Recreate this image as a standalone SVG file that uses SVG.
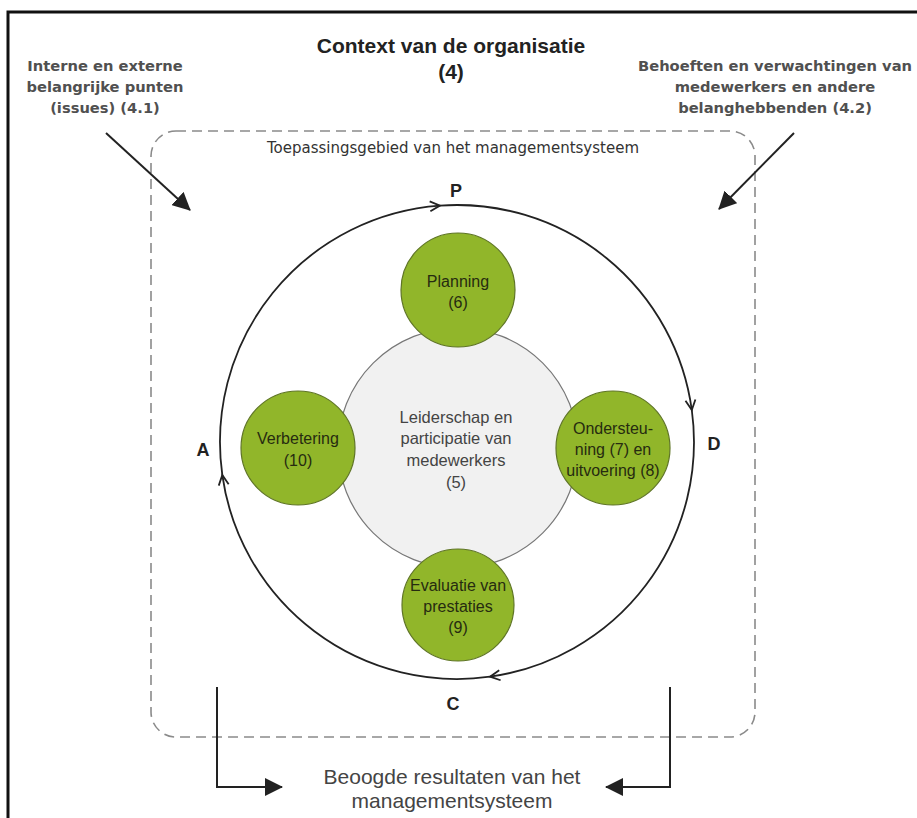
<svg xmlns="http://www.w3.org/2000/svg" width="917" height="818" viewBox="0 0 917 818">
  <style>
    .frame { fill: none; stroke: #111; stroke-width: 3; }
    .scope { fill: none; stroke: #8a8a8a; stroke-width: 1.6; stroke-dasharray: 10 6; }
    .conn { fill: none; stroke: #222; stroke-width: 2; }
    .cycle { fill: none; stroke: #222; stroke-width: 1.8; }
    .core { fill: #f1f1f1; stroke: #777; stroke-width: 1.2; }
    .green { fill: #91b62a; stroke: #5f7526; stroke-width: 1.2; }
    .gt { font-family: "Liberation Sans", Arial, sans-serif; font-size: 16px; fill: #262b10; text-anchor: middle; }
    .ct { font-family: "Liberation Sans", Arial, sans-serif; font-size: 16.5px; fill: #444; text-anchor: middle; }
    .title { font-family: "Liberation Sans", Arial, sans-serif; font-size: 21px; font-weight: bold; fill: #222; text-anchor: middle; }
    .side { font-family: "DejaVu Sans", Verdana, sans-serif; font-size: 14.7px; font-weight: bold; fill: #505050; text-anchor: middle; }
    .scopet { font-family: "DejaVu Sans", Verdana, sans-serif; font-size: 15px; fill: #333; text-anchor: middle; }
    .pdca { font-family: "Liberation Sans", Arial, sans-serif; font-size: 18px; font-weight: bold; fill: #222; text-anchor: middle; }
    .res { font-family: "Liberation Sans", Arial, sans-serif; font-size: 21px; fill: #444; text-anchor: middle; }
  </style>
  <defs>
    <marker id="filled" markerUnits="userSpaceOnUse" markerWidth="18" markerHeight="18" viewBox="0 0 18 18" refX="17" refY="9" orient="auto">
      <path d="M0,0 L18,9 L0,18 z" fill="#222"/>
    </marker>
    <marker id="chev" markerUnits="userSpaceOnUse" markerWidth="14" markerHeight="14" viewBox="0 0 14 14" refX="12" refY="7" orient="auto">
      <path d="M2,2 L12,7 L2,12" fill="none" stroke="#222" stroke-width="1.8"/>
    </marker>
  </defs>

  <rect x="0" y="0" width="917" height="818" fill="#fff"/>
  <path class="frame" d="M8,820 V12 H920"/>

  <g id="title">
    <text class="title" x="451" y="53">Context van de organisatie</text>
    <text class="title" x="451" y="79">(4)</text>
  </g>

  <g id="issues">
    <text class="side" x="105" y="71">Interne en externe</text>
    <text class="side" x="105" y="92">belangrijke punten</text>
    <text class="side" x="105" y="113">(issues) (4.1)</text>
  </g>

  <g id="stakeholders">
    <text class="side" x="775" y="71">Behoeften en verwachtingen van</text>
    <text class="side" x="775" y="92">medewerkers en andere</text>
    <text class="side" x="775" y="113">belanghebbenden (4.2)</text>
  </g>

  <g id="scope">
    <rect class="scope" x="151" y="131" width="604" height="606" rx="25" ry="25"/>
    <text class="scopet" x="453" y="153">Toepassingsgebied van het managementsysteem</text>
  </g>

  <g id="connectors">
    <path class="conn" d="M106,133 L190,210" marker-end="url(#filled)"/>
    <path class="conn" d="M794,133 L719,209" marker-end="url(#filled)"/>
    <path class="cycle" d="M222.3,475 A237,237 0 0 1 440,205.6" marker-end="url(#chev)"/>
    <path class="cycle" d="M440,205.6 A237,237 0 0 1 691.8,410" marker-end="url(#chev)"/>
    <path class="cycle" d="M691.8,410 A237,237 0 0 1 490,676.7" marker-end="url(#chev)"/>
    <path class="cycle" d="M490,676.7 A237,237 0 0 1 222.3,475" marker-end="url(#chev)"/>
    <path class="conn" d="M217,687 V787 H282" marker-end="url(#filled)"/>
    <path class="conn" d="M670,687 V787 H606" marker-end="url(#filled)"/>
  </g>

  <g id="pdca-labels">
    <text class="pdca" x="456" y="197">P</text>
    <text class="pdca" x="714" y="450">D</text>
    <text class="pdca" x="453" y="710">C</text>
    <text class="pdca" x="203" y="456">A</text>
  </g>

  <g id="leiderschap">
    <circle class="core" cx="458" cy="448" r="120"/>
    <text class="ct" x="456" y="423">Leiderschap en</text>
    <text class="ct" x="456" y="444">participatie van</text>
    <text class="ct" x="456" y="466">medewerkers</text>
    <text class="ct" x="456" y="488">(5)</text>
  </g>

  <g id="planning">
    <circle class="green" cx="458" cy="290" r="57"/>
    <text class="gt" x="458" y="287">Planning</text>
    <text class="gt" x="458" y="308">(6)</text>
  </g>

  <g id="verbetering">
    <circle class="green" cx="298" cy="448" r="57"/>
    <text class="gt" x="298" y="444">Verbetering</text>
    <text class="gt" x="298" y="466">(10)</text>
  </g>

  <g id="ondersteuning">
    <circle class="green" cx="613" cy="448" r="57"/>
    <text class="gt" x="613" y="434">Ondersteu-</text>
    <text class="gt" x="613" y="455">ning (7) en</text>
    <text class="gt" x="613" y="476">uitvoering (8)</text>
  </g>

  <g id="evaluatie">
    <circle class="green" cx="458" cy="605" r="56"/>
    <text class="gt" x="458" y="591">Evaluatie van</text>
    <text class="gt" x="458" y="612">prestaties</text>
    <text class="gt" x="458" y="633">(9)</text>
  </g>

  <g id="resultaten">
    <text class="res" x="452" y="784">Beoogde resultaten van het</text>
    <text class="res" x="452" y="808">managementsysteem</text>
  </g>
</svg>
